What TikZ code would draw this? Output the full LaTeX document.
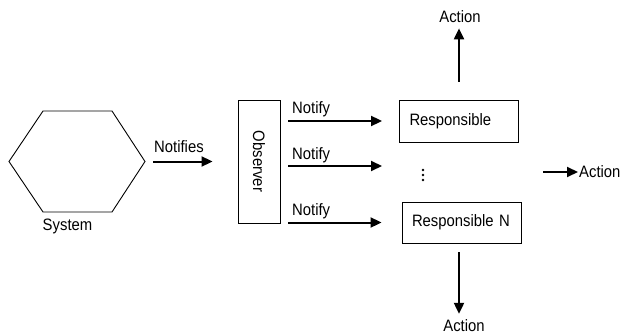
\documentclass[tikz,border=0pt]{standalone}
\usepackage{fontspec}
\setmainfont{Liberation Sans}[FakeStretch=0.9]
\usepackage{tikz}
\usetikzlibrary{arrows.meta, positioning, calc}

\tikzset{
  arr/.style={line width=2pt, -{Triangle[length=11pt,width=10pt]}},
  box/.style={draw, line width=0.9pt},
  lbl/.style={inner sep=0pt}
}

\begin{document}
\begin{tikzpicture}[x=1pt, y=-1pt, every node/.style={font=\fontsize{16.5}{19}\selectfont}]
\useasboundingbox (0,0) rectangle (621,334);
% system
\coordinate (hexL) at (9,161.5);
\coordinate (hexR) at (145,161.5);
\draw[line width=0.9pt] (hexL) -- (43,111) -- (112,111) -- (hexR) -- (112,212) -- (43,212) -- cycle;
\node[lbl, anchor=base] (sys) at (67.5,230.6) {System};
% observer
\node[box, minimum width=42, minimum height=123] (obs) at (259,161.5) {\rotatebox{-90}{Observer}};
\draw[arr, shorten <=8pt, shorten >=25pt] (hexR) -- (hexR -| obs.west);
\node[lbl, anchor=base west] (ntf) at (154,153) {Notifies};
% responsibles
\node[box, text width=99, inner xsep=10, minimum height=42, align=left] (resp) at (459,121) {Responsible};
\node[box, text width=99, inner xsep=10, minimum height=41, align=left] (respN) at (461.5,222.5) {Responsible N};
\coordinate (mid) at (399,166);
\node (dots) at (423,175) {};
\foreach \dy in {-5,0,5} { \fill ([yshift=\dy pt]dots) circle (1.4pt); }
\draw[arr, shorten <=8pt, shorten >=17pt] (obs.east |- resp.west) -- (resp.west);
\draw[arr, shorten <=8pt, shorten >=17pt] (obs.east |- mid) -- (mid);
\draw[arr, shorten <=8pt, shorten >=20pt] (obs.east |- respN.west) -- (respN.west);
\node[lbl, anchor=base west] (nt1) at (292,114) {Notify};
\node[lbl, anchor=base west] (nt2) at (292,159) {Notify};
\node[lbl, anchor=base west] (nt3) at (292,215) {Notify};
% actions
\node[lbl, anchor=base] (act1) at (460,22.5) {Action};
\node[lbl, anchor=base] (act2) at (464,331) {Action};
\node[lbl, anchor=west, inner sep=1pt] (act3) at (578,172) {Action};
\coordinate (rfree) at (543,172);
\draw[arr, shorten <=18pt, shorten >=5.5pt] (resp.north) -- (resp.north |- act1.south);
\draw[arr, shorten <=9pt, shorten >=5pt] ($(respN.south)+(-2.5,0)$) -- ($(respN.south |- act2.north)+(-2.5,0)$);
\draw[arr] (rfree) -- (act3.west);
\end{tikzpicture}
\end{document}
